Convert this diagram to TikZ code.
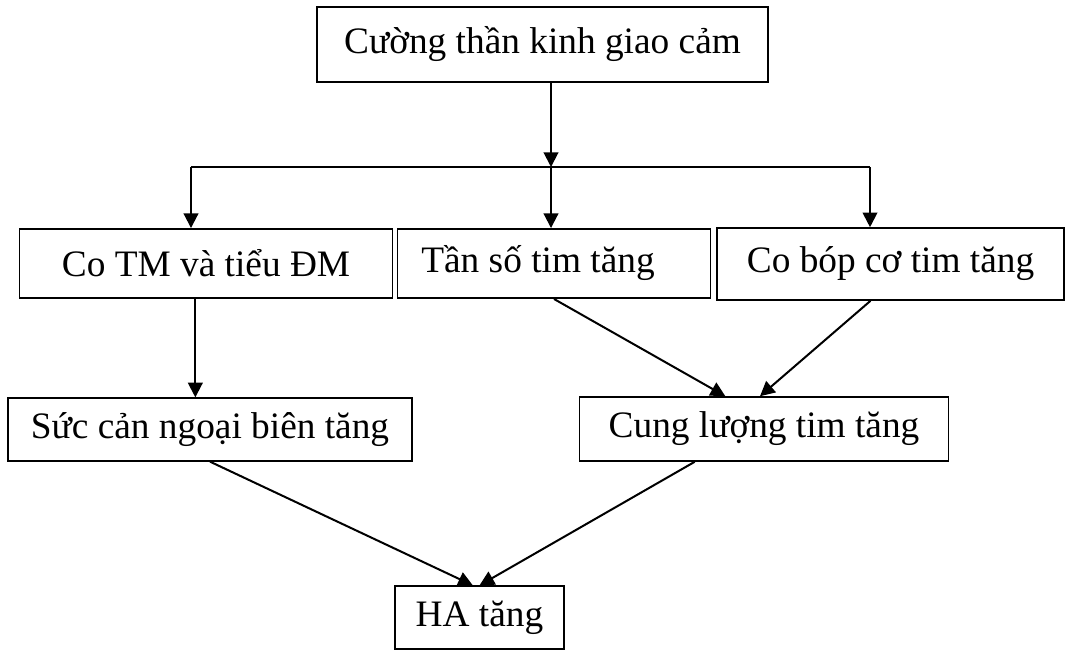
\documentclass[tikz,border=0pt]{standalone}
\usepackage{fontspec}
\setmainfont{Liberation Serif}
\usetikzlibrary{arrows.meta}

\begin{document}
\begin{tikzpicture}[x=0.75pt,y=-0.75pt,line width=1.5pt,
    >={Triangle[length=11pt,width=11pt]},
    main/.style={draw,line width=1.2pt,inner sep=0pt,font=\fontsize{28}{32}\selectfont}]
    \useasboundingbox (0,0) rectangle (1067,651);
    \node[main,minimum width=338pt,minimum height=56pt] (symp) at (542.5,44.5) {Cường thần kinh giao cảm};
    \node[main,minimum width=280pt,minimum height=52pt] (comt) at (206,263.5) {Co TM và tiểu ĐM};
    \node[main,minimum width=235pt,minimum height=52pt] (tanso) at (554,263.5) {Tần số tim tăng\rule{24pt}{0pt}};
    \node[main,minimum width=260pt,minimum height=54pt] (cobop) at (890.5,264) {Co bóp cơ tim tăng};
    \node[main,minimum width=303pt,minimum height=47pt] (succan) at (210,429.5) {Sức cản ngoại biên tăng};
    \node[main,minimum width=277pt,minimum height=48pt] (cungluong) at (764,429) {Cung lượng tim tăng};
    \node[main,minimum width=127pt,minimum height=47pt] (ha) at (479.5,617.5) {HA tăng};
    \coordinate (split) at (551,167);
    \coordinate (left) at (191,167);
    \coordinate (right) at (870,167);
    \draw[->] (symp.south -| split) -- (split);
    \draw (left) -- (right);
    \draw[->] (left) -- (left |- comt.north);
    \draw[->] (split) -- (split |- tanso.north);
    \draw[->] (right) -- (right |- cobop.north);
    \draw[->] ([xshift=-8pt]comt.south) -- ([xshift=-8pt]comt.south |- succan.north);
    \draw[->] (tanso.south) -- ([xshift=-29pt]cungluong.north);
    \draw[->] ([xshift=-15pt]cobop.south) -- ([xshift=-3pt]cungluong.north);
    \draw[->] (succan.south) -- ([xshift=-5pt]ha.north);
    \draw[->] ([xshift=-52pt]cungluong.south) -- (ha.north);
\end{tikzpicture}
\end{document}
